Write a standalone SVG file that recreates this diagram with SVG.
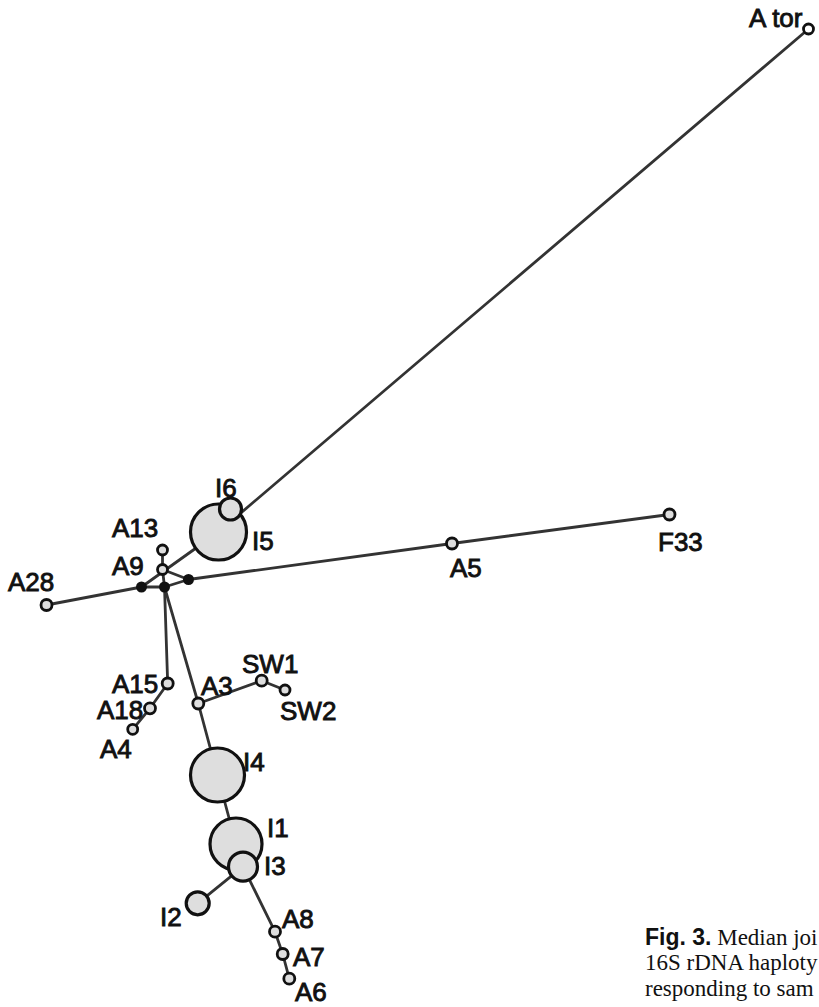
<svg xmlns="http://www.w3.org/2000/svg" width="819" height="1007" viewBox="0 0 819 1007">
<style>
.e{stroke:#333;stroke-width:2.8;fill:none;stroke-linecap:round}
.n{fill:#dedede;stroke:#111;stroke-width:2.8}
.b{fill:#dedede;stroke:#111;stroke-width:3.2}
.m{fill:#111}
.l{font-family:"Liberation Sans",Arial,sans-serif;font-size:26px;fill:#111;stroke:#111;stroke-width:0.9}
.c{font-family:"Liberation Serif","Times New Roman",serif;font-size:23px;fill:#111}
.cb{font-family:"Liberation Sans",Arial,sans-serif;font-weight:bold}
</style>
<rect width="819" height="1007" fill="#fff"/>
<g id="connectors">
<line class="e" x1="808.5" y1="29" x2="218.5" y2="532"/>
<line class="e" x1="218.5" y1="532" x2="141.5" y2="587"/>
<line class="e" x1="46.5" y1="605" x2="141.5" y2="587"/>
<line class="e" x1="141.5" y1="587" x2="164.5" y2="587"/>
<line class="e" x1="164.5" y1="587" x2="188.5" y2="579.5"/>
<line class="e" x1="188.5" y1="579.5" x2="452" y2="543.5"/>
<line class="e" x1="452" y1="543.5" x2="669.5" y2="514.5"/>
<line class="e" x1="162.5" y1="569.5" x2="162.5" y2="550"/>
<line class="e" x1="162.5" y1="569.5" x2="164.5" y2="587"/>
<line class="e" x1="162.5" y1="569.5" x2="188.5" y2="579.5"/>
<line class="e" x1="164.5" y1="587" x2="167.7" y2="683.5"/>
<line class="e" x1="164.5" y1="587" x2="198.3" y2="703.5"/>
<line class="e" x1="167.7" y1="683.5" x2="150" y2="708.3"/>
<line class="e" x1="150" y1="708.3" x2="132.7" y2="729.3"/>
<line class="e" x1="198.3" y1="703.5" x2="261.7" y2="680.7"/>
<line class="e" x1="261.7" y1="680.7" x2="285" y2="690"/>
<line class="e" x1="198.3" y1="703.5" x2="217.5" y2="775"/>
<line class="e" x1="217.5" y1="775" x2="236" y2="844"/>
<line class="e" x1="236" y1="844" x2="243" y2="866.7"/>
<line class="e" x1="243" y1="866.7" x2="197.7" y2="903.3"/>
<line class="e" x1="243" y1="866.7" x2="275" y2="931.7"/>
<line class="e" x1="275" y1="931.7" x2="282.7" y2="954"/>
<line class="e" x1="282.7" y1="954" x2="289.3" y2="978.7"/>
</g>
<g id="mv1"><circle class="m" cx="141.5" cy="587" r="5.5"/></g>
<g id="mv2"><circle class="m" cx="164.5" cy="587" r="5.5"/></g>
<g id="mv3"><circle class="m" cx="188.5" cy="579.5" r="5.5"/></g>
<g id="Ator"><circle class="n" cx="808.5" cy="29" r="5" style="fill:#fff"/><text class="l" x="749" y="27">A tor</text></g>
<g id="I5"><circle class="b" cx="218.5" cy="532" r="28"/><text class="l" x="252" y="550">I5</text></g>
<g id="I6"><circle class="b" cx="230.5" cy="509" r="11"/><text class="l" x="215" y="497">I6</text></g>
<g id="A13"><circle class="n" cx="162.5" cy="550" r="5"/><text class="l" x="112" y="537">A13</text></g>
<g id="A9"><circle class="n" cx="162.5" cy="569.5" r="5"/><text class="l" x="112" y="575">A9</text></g>
<g id="A28"><circle class="n" cx="46.5" cy="605" r="5.5"/><text class="l" x="8" y="591">A28</text></g>
<g id="A5"><circle class="n" cx="452" cy="543.5" r="5.5"/><text class="l" x="450" y="577">A5</text></g>
<g id="F33"><circle class="n" cx="669.5" cy="514.5" r="5.5"/><text class="l" x="658" y="551">F33</text></g>
<g id="A15"><circle class="n" cx="167.7" cy="683.5" r="5.5"/><text class="l" x="112" y="693">A15</text></g>
<g id="A18"><circle class="n" cx="150" cy="708.3" r="5.5"/><text class="l" x="97" y="719">A18</text></g>
<g id="A4"><circle class="n" cx="132.7" cy="729.3" r="5"/><text class="l" x="100" y="758">A4</text></g>
<g id="A3"><circle class="n" cx="198.3" cy="703.5" r="5.5"/><text class="l" x="201" y="695">A3</text></g>
<g id="SW1"><circle class="n" cx="261.7" cy="680.7" r="5.5"/><text class="l" x="242" y="673">SW1</text></g>
<g id="SW2"><circle class="n" cx="285" cy="690" r="5"/><text class="l" x="280" y="720">SW2</text></g>
<g id="I4"><circle class="b" cx="217.5" cy="775" r="27"/><text class="l" x="243" y="771">I4</text></g>
<g id="I1"><circle class="b" cx="236" cy="844" r="26"/><text class="l" x="267" y="837">I1</text></g>
<g id="I3"><circle class="b" cx="243" cy="866.7" r="14.5"/><text class="l" x="264" y="875">I3</text></g>
<g id="I2"><circle class="b" cx="197.7" cy="903.3" r="11.5"/><text class="l" x="160" y="926">I2</text></g>
<g id="A8"><circle class="n" cx="275" cy="931.7" r="5.5"/><text class="l" x="282" y="928">A8</text></g>
<g id="A7"><circle class="n" cx="282.7" cy="954" r="5.5"/><text class="l" x="293" y="966">A7</text></g>
<g id="A6"><circle class="n" cx="289.3" cy="978.7" r="5.5"/><text class="l" x="295" y="1001">A6</text></g>
<g id="caption">
<text class="c" x="645" y="945"><tspan class="cb">Fig. 3.</tspan> Median joi</text>
<text class="c" x="645" y="970">16S rDNA haploty</text>
<text class="c" x="645" y="996">responding to sam</text>
</g>
</svg>
